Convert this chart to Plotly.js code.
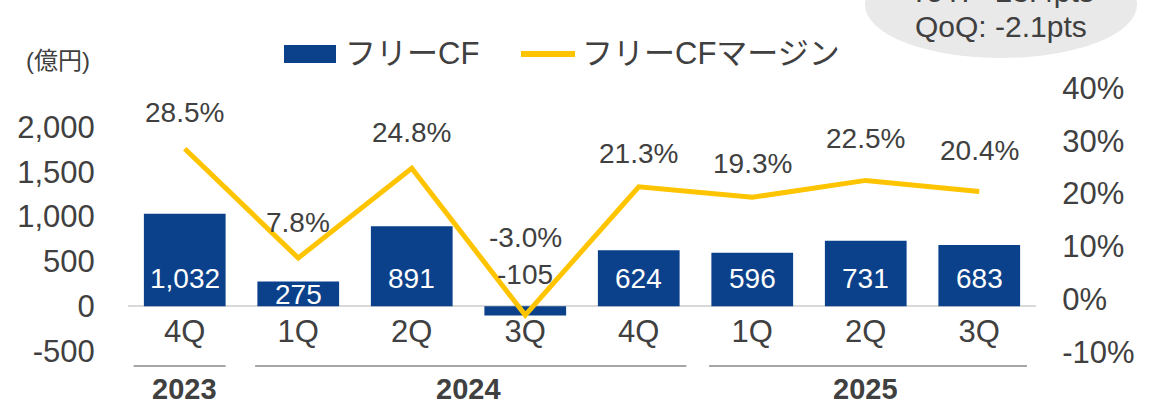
<!DOCTYPE html>
<html>
<head>
<meta charset="utf-8">
<script src="https://cdn.plot.ly/plotly-3.0.1.min.js"></script>
<style>
  html, body { margin: 0; padding: 0; background: #fff; }
  #chart { width: 1163px; height: 407px; }
</style>
</head>
<body>
<div id="chart"></div>
<script>
// quarters and fiscal years
const quarters = ['4Q', '1Q', '2Q', '3Q', '4Q', '1Q', '2Q', '3Q'];
const years = ['2023', '2024', '2025'];
const yearStartIdx = [0, 1, 5];
const yearEndIdx = [0, 4, 7];

// free cash flow (億円) and free CF margin (%)
const freeCF = [1032, 275, 891, -105, 624, 596, 731, 683];
const freeCFMargin = [28.5, 7.8, 24.8, -3.0, 21.3, 19.3, 22.5, 20.4];

// axis ticks
const cfTicks = [-500, 0, 500, 1000, 1500, 2000];
const cfTickText = ['-500', '0', '500', '1,000', '1,500', '2,000'];
const marginTicks = [-10, 0, 10, 20, 30, 40];
const marginTickText = ['-10%', '0%', '10%', '20%', '30%', '40%'];

// callout text
const yoyText = 'YoY: +23.4pts';
const qoqText = 'QoQ: -2.1pts';

const W = 1163, H = 407;
const M = { l: 128, r: 127, t: 88, b: 55 };
const FONT = 'Liberation Sans, Arial, Noto Sans CJK JP, sans-serif';
const GREY = '#404040';
const BLUE = '#0b418b';
const YELLOW = '#ffc400';

// pixel -> paper helpers (for legend, callout, year rows)
function px2x(px) { return (px - M.l) / (W - M.l - M.r); }
function py2y(py) { return (H - M.b - py) / (H - M.t - M.b); }

const xIdx = quarters.map(function(q, i) { return i; });

const bars = {
    type: 'bar',
    x: xIdx,
    y: freeCF,
    width: 0.72,
    marker: { color: BLUE, line: { width: 0 } },
    hoverinfo: 'skip',
    showlegend: false
};

const line = {
    type: 'scatter',
    mode: 'lines',
    x: xIdx,
    y: freeCFMargin,
    yaxis: 'y2',
    line: { color: YELLOW, width: 5 },
    hoverinfo: 'skip',
    showlegend: false
};

// label lift above line points (px)
const marginLift = [36, 36, 36, 78, 33, 34, 42, 41];

const annotations = [];

freeCFMargin.forEach(function(v, i) {
    annotations.push({
        x: i, y: v, xref: 'x', yref: 'y2',
        text: v.toFixed(1) + '%',
        showarrow: false, yshift: marginLift[i],
        font: { family: FONT, size: 28, color: GREY }
    });
});

freeCF.forEach(function(v, i) {
    const txt = v.toLocaleString('en-US');
    if (v < 0) {
        annotations.push({ x: i, y: 0, xref: 'x', yref: 'y', text: txt, showarrow: false,
            yshift: 32, font: { family: FONT, size: 28, color: GREY } });
    } else if (v < 400) {
        annotations.push({ x: i, y: v / 2, xref: 'x', yref: 'y', text: txt, showarrow: false,
            yshift: -1, font: { family: FONT, size: 28, color: '#ffffff' } });
    } else {
        annotations.push({ x: i, y: 0, xref: 'x', yref: 'y', text: txt, showarrow: false,
            yshift: 28, font: { family: FONT, size: 28, color: '#ffffff' } });
    }
});

const shapes = [];

// year rows under the quarter labels
years.forEach(function(yr, k) {
    const s = yearStartIdx[k], e = yearEndIdx[k];
    shapes.push({
        type: 'line', xref: 'x', yref: 'paper',
        x0: s - (k === 0 ? 0.45 : 0.38), x1: e + (k === 0 ? 0.36 : 0.42),
        y0: py2y(366), y1: py2y(366),
        line: { color: '#a6a6a6', width: 2 }
    });
    annotations.push({
        x: (s + e) / 2, xref: 'x', y: py2y(389), yref: 'paper',
        text: '<b>' + yr + '</b>', showarrow: false, yanchor: 'middle',
        font: { family: FONT, size: 29, color: GREY }
    });
});

// legend (drawn by hand to match the wide swatches)
shapes.push({ type: 'rect', xref: 'paper', yref: 'paper',
    x0: px2x(284), x1: px2x(336), y0: py2y(63), y1: py2y(45),
    fillcolor: BLUE, line: { width: 0 } });
shapes.push({ type: 'line', xref: 'paper', yref: 'paper',
    x0: px2x(521), x1: px2x(575), y0: py2y(54), y1: py2y(54),
    line: { color: YELLOW, width: 6 } });
annotations.push({ x: px2x(343), y: py2y(54), xref: 'paper', yref: 'paper', xanchor: 'left', yanchor: 'middle',
    text: 'フリーCF', showarrow: false, font: { family: FONT, size: 31, color: GREY } });
annotations.push({ x: px2x(580), y: py2y(54), xref: 'paper', yref: 'paper', xanchor: 'left', yanchor: 'middle',
    text: 'フリーCFマージン', showarrow: false, font: { family: FONT, size: 31, color: GREY } });

// unit label
annotations.push({ x: px2x(24), y: py2y(60), xref: 'paper', yref: 'paper', xanchor: 'left', yanchor: 'middle',
    text: '(億円)', showarrow: false, font: { family: FONT, size: 24, color: GREY } });

// grey callout bubble, top right (cut by the frame)
shapes.push({ type: 'circle', xref: 'paper', yref: 'paper', layer: 'below',
    x0: px2x(865), x1: px2x(1137), y0: py2y(58), y1: py2y(-48),
    fillcolor: '#e9e9e9', line: { width: 0 } });
annotations.push({ x: px2x(1001), y: py2y(-9), xref: 'paper', yref: 'paper', xanchor: 'center', yanchor: 'middle',
    text: yoyText, showarrow: false, font: { family: FONT, size: 30, color: GREY } });
annotations.push({ x: px2x(1001), y: py2y(26), xref: 'paper', yref: 'paper', xanchor: 'center', yanchor: 'middle',
    text: qoqText, showarrow: false, font: { family: FONT, size: 30, color: GREY } });

const layout = {
    width: W, height: H,
    margin: M,
    paper_bgcolor: '#ffffff',
    plot_bgcolor: 'rgba(0,0,0,0)',
    font: { family: FONT, color: GREY },
    showlegend: false,
    xaxis: {
        type: 'linear',
        range: [-0.5, 7.5],
        tickvals: xIdx,
        ticktext: quarters,
        anchor: 'free',
        position: py2y(310),
        showline: false, showgrid: false, zeroline: false, ticks: '',
        tickfont: { family: FONT, size: 31, color: GREY },
        fixedrange: true
    },
    yaxis: {
        range: [-511, 2435],
        tickvals: cfTicks,
        ticktext: cfTickText,
        showgrid: false, showline: false,
        zeroline: true, zerolinecolor: '#d9d9d9', zerolinewidth: 2,
        ticks: 'outside', ticklen: 26, tickcolor: 'rgba(0,0,0,0)',
        tickfont: { family: FONT, size: 31, color: GREY },
        fixedrange: true
    },
    yaxis2: {
        overlaying: 'y', side: 'right', anchor: 'x',
        range: [-10, 40],
        tickvals: marginTicks,
        ticktext: marginTickText,
        showgrid: false, showline: false, zeroline: false,
        ticks: 'outside', ticklen: 19, tickcolor: 'rgba(0,0,0,0)',
        tickfont: { family: FONT, size: 31, color: GREY },
        fixedrange: true
    },
    shapes: shapes,
    annotations: annotations
};

Plotly.newPlot('chart', [bars, line], layout, { displayModeBar: false, staticPlot: true });
</script>
</body>
</html>
